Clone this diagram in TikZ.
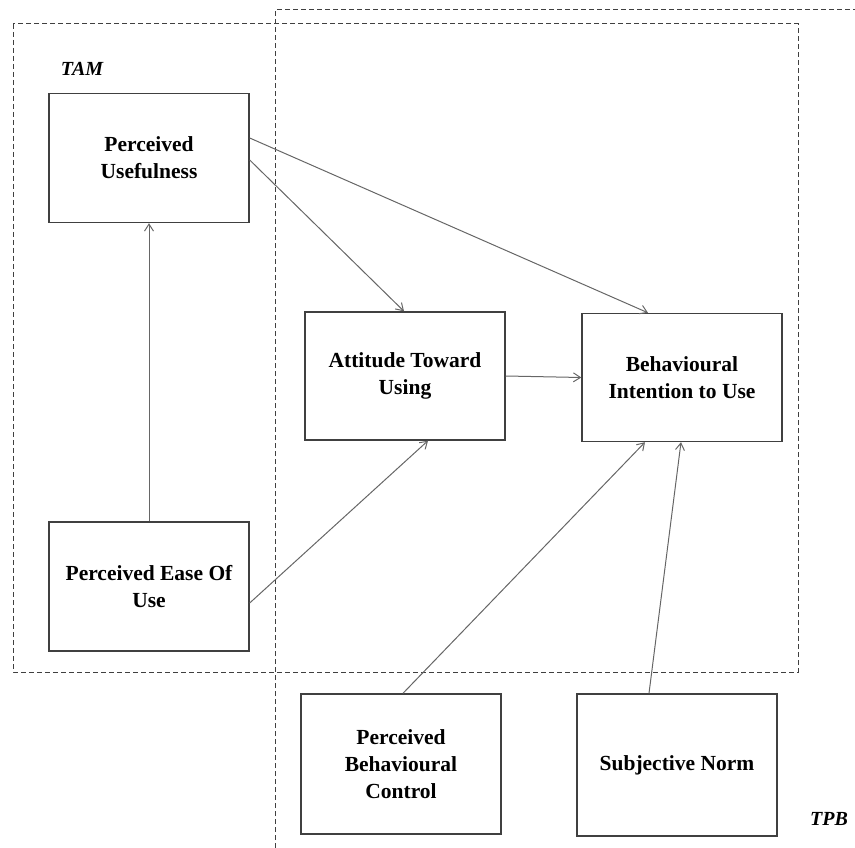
\documentclass[tikz,border=0pt]{standalone}
\usepackage{fontspec}
\setmainfont{Liberation Serif}
\usetikzlibrary{arrows.meta,calc}

\tikzset{
  construct/.style={draw=black!75, line width=1.4pt, fill=white,
    minimum width=200pt, minimum height=128pt, inner sep=4pt,
    align=center,
    font=\fontsize{21.5}{27}\selectfont\bfseries},
  path arrow/.style={draw=black!60, line width=1pt,
    -{Straight Barb[length=7pt,width=9pt,line width=1pt]}},
  frame/.style={draw=black!75, line width=1pt, dash pattern=on 5pt off 3pt},
  model label/.style={font=\fontsize{20}{24}\selectfont\bfseries\itshape}
}

\begin{document}
\begin{tikzpicture}[x=1pt,y=-1pt]
  \useasboundingbox (0,0) rectangle (855,848);

  % model boundaries
  \coordinate (tam nw) at (13,24);
  \coordinate (tam se) at (798,672);
  \coordinate (tpb bottom) at (275,848);
  \coordinate (tpb corner) at (275,10);
  \coordinate (tpb right) at (855,10);
  \draw[frame] (tam nw) rectangle (tam se);
  \draw[frame] (tpb bottom) -- (tpb corner) -- (tpb right);

  \node[model label] (tam) at (82,69) {TAM};
  \node[model label] (tpb) at (829,819) {TPB};

  % constructs
  \node[construct, minimum height=129pt] (pu)   at (149,158)   {Perceived\\Usefulness};
  \node[construct, minimum height=129pt] (peou) at (149,586.5) {Perceived Ease Of\\Use};
  \node[construct] (atu) at (405,376)   {Attitude Toward\\Using};
  \node[construct] (bi)  at (682,377.5) {Behavioural\\Intention to Use};
  \node[construct, minimum height=140pt] (pbc) at (401,764) {Perceived\\Behavioural\\Control};
  \node[construct, minimum height=142pt] (sn)  at (677,765) {Subjective Norm};

  % hypothesised paths
  \draw[path arrow] (peou.north) -- (pu.south);
  \draw[path arrow] ([yshift=20pt]pu.east) -- ([xshift=-34pt]bi.north);
  \draw[path arrow] ([yshift=-2pt]pu.east) -- ([xshift=-1pt]atu.north);
  \draw[path arrow] ([yshift=-16.5pt]peou.east) -- ([xshift=23pt]atu.south);
  \draw[path arrow] (atu.east) -- (bi.west);
  \draw[path arrow] ([xshift=2pt]pbc.north) -- ([xshift=-37pt]bi.south);
  \draw[path arrow] ([xshift=-28pt]sn.north) -- ([xshift=-1pt]bi.south);
\end{tikzpicture}
\end{document}
